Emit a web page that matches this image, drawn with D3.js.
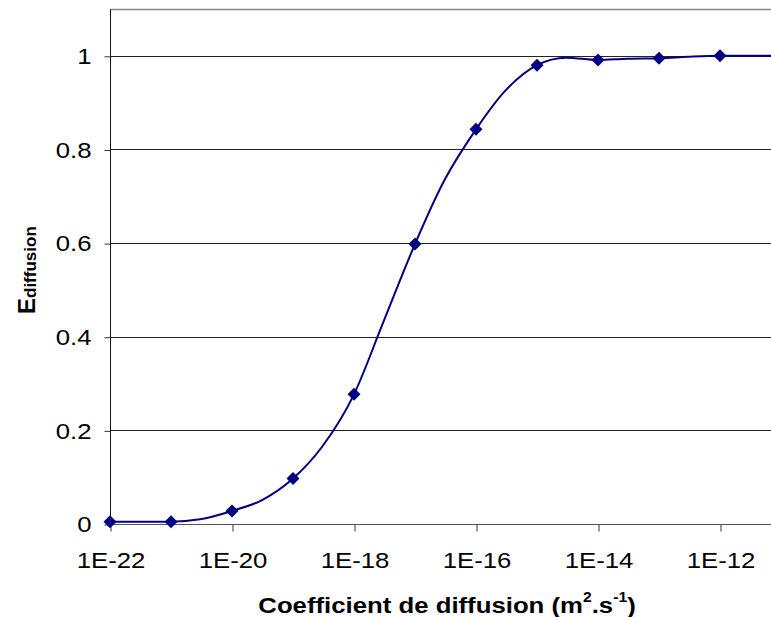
<!DOCTYPE html>
<html>
<head>
<meta charset="utf-8">
<script src="https://cdn.jsdelivr.net/npm/d3@7/dist/d3.min.js"></script>
<style>
  html, body { margin: 0; padding: 0; background: #fff; }
  svg { display: block; }
  text { font-family: "Liberation Sans", Arial, sans-serif; fill: #000; }
</style>
</head>
<body>
<svg id="chart" width="771" height="617"></svg>
<script>
// Computed points (shown with markers)
const markerD = [1e-22, 1e-21, 1e-20, 1e-19, 1e-18, 1e-17, 1e-16, 1e-15, 1e-14, 1e-13, 1e-12];
const markerE = [0.005, 0.005, 0.028, 0.097, 0.277, 0.598, 0.843, 0.980, 0.991, 0.995, 1.000];

// Denser curve through the same range
const curveD = [1e-22, 3e-22, 1e-21, 3e-21, 1e-20, 3e-20, 1e-19, 3e-19, 1e-18, 3e-18, 1e-17, 3e-17,
                1e-16, 3e-16, 1e-15, 3e-15, 1e-14, 3e-14, 1e-13, 3e-13, 1e-12, 3e-12, 1e-11];
const curveE = [0.005, 0.005, 0.005, 0.010, 0.028, 0.050, 0.097, 0.165, 0.277, 0.430, 0.598, 0.733,
                0.843, 0.925, 0.980, 0.996, 0.991, 0.994, 0.995, 0.998, 1.000, 1.000, 1.000];

const xTicks = [1e-22, 1e-20, 1e-18, 1e-16, 1e-14, 1e-12];
const yTicks = [0, 0.2, 0.4, 0.6, 0.8, 1];

const svg = d3.select("#chart");
const plotLeft = 110, plotTop = 9, plotBottom = 524, plotRight = 771;

const x = d3.scaleLog().domain([1e-22, 1e-10]).range([plotLeft, plotLeft + 12 * 61]);
const y = d3.scaleLinear().domain([0, 1.1]).range([plotBottom, plotTop]);

const color = "#000080";
const fs = 23;
const stretch = 1.12; // glyphs in this chart are slightly wide

// gridlines
svg.append("g")
  .selectAll("line")
  .data(yTicks.filter(v => v > 0))
  .join("line")
  .attr("x1", plotLeft).attr("x2", plotRight)
  .attr("y1", d => Math.round(y(d)) + 0.5).attr("y2", d => Math.round(y(d)) + 0.5)
  .attr("stroke", "#222").attr("stroke-width", 1);

// top border of plot area
svg.append("line")
  .attr("x1", plotLeft).attr("x2", plotRight)
  .attr("y1", plotTop + 0.5).attr("y2", plotTop + 0.5)
  .attr("stroke", "#888").attr("stroke-width", 1.5);

// x axis
const xAxis = d3.axisBottom(x)
  .tickValues(xTicks)
  .tickSizeInner(7).tickSizeOuter(0)
  .tickPadding(20)
  .tickFormat(d => "1E" + Math.round(Math.log10(d)));
const gx = svg.append("g").attr("transform", `translate(0.5,${plotBottom + 0.5})`).call(xAxis);
gx.select(".domain").attr("stroke", "#555").attr("d", `M${plotLeft},0H${plotRight}`);
gx.selectAll(".tick line").attr("stroke", "#333");
gx.selectAll(".tick text")
  .attr("font-size", fs).attr("font-family", "Liberation Sans, Arial, sans-serif")
  .attr("transform", `scale(${stretch},1)`);

// y axis
const yAxis = d3.axisLeft(y)
  .tickValues(yTicks)
  .tickSizeInner(6).tickSizeOuter(0)
  .tickPadding(12)
  .tickFormat(d => d === 0 || d === 1 ? String(d) : d.toFixed(1));
const gy = svg.append("g").attr("transform", `translate(${plotLeft + 0.5},0.5)`).call(yAxis);
gy.select(".domain").attr("stroke", "#111").attr("d", `M0,${plotTop}V${plotBottom}`);
gy.selectAll(".tick line").attr("stroke", "#333");
gy.selectAll(".tick text")
  .attr("font-size", fs).attr("font-family", "Liberation Sans, Arial, sans-serif")
  .attr("x", 0)
  .attr("transform", `translate(-19,0) scale(${stretch},1)`);

// curve
const line = d3.line()
  .x((d, i) => x(curveD[i]))
  .y(d => y(d))
  .curve(d3.curveMonotoneX);
svg.append("path")
  .attr("d", line(curveE))
  .attr("fill", "none")
  .attr("stroke", color)
  .attr("stroke-width", 2);

// diamond markers
svg.append("g")
  .selectAll("path")
  .data(markerE)
  .join("path")
  .attr("transform", (d, i) => `translate(${x(markerD[i])},${y(d)})`)
  .attr("d", "M0,-6.5L6.5,0L0,6.5L-6.5,0Z")
  .attr("fill", color);

// x axis title
const xt = svg.append("text")
  .attr("transform", `translate(447,613) scale(${stretch},1)`)
  .attr("text-anchor", "middle")
  .attr("font-size", fs).attr("font-weight", "bold");
xt.append("tspan").text("Coefficient de diffusion (m");
xt.append("tspan").attr("font-size", 14).attr("dy", -11).text("2");
xt.append("tspan").attr("dy", 11).text(".s");
xt.append("tspan").attr("font-size", 14).attr("dy", -11).text("-1");
xt.append("tspan").attr("dy", 11).text(")");

// y axis title
const yt = svg.append("text")
  .attr("transform", "translate(35,314) rotate(-90)")
  .attr("font-weight", "bold");
yt.append("tspan").attr("font-size", 24).text("E");
yt.append("tspan").attr("font-size", 17).attr("dy", 1).text("diffusion");
</script>
</body>
</html>
